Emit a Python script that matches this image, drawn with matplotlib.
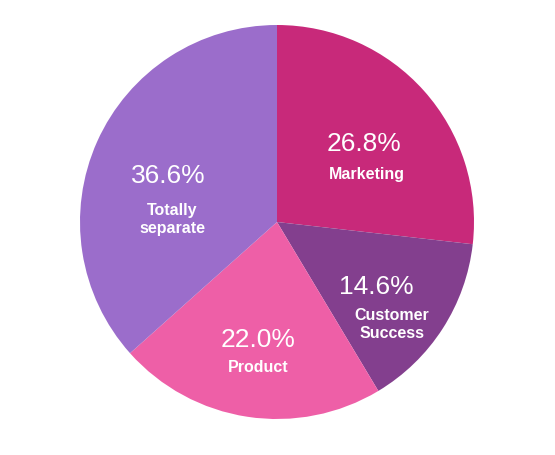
import matplotlib
matplotlib.use("Agg")
import matplotlib.pyplot as plt

categories = ["Marketing", "Customer\nSuccess", "Product", "Totally\nseparate"]
values = [26.8, 14.6, 22.0, 36.6]
colors = ["#C8297A", "#833F8E", "#EE5FA7", "#9B6DCB"]

W, H = 555, 455
fig = plt.figure(figsize=(W / 100, H / 100), dpi=100)
ax = fig.add_axes([0, 0, 1, 1])

cx, cy, r = 277, H - 222, 197
ax.pie(values, colors=colors, startangle=90, counterclock=False,
       center=(cx, cy), radius=r, frame=True,
       wedgeprops=dict(linewidth=0))
ax.set_xlim(0, W)
ax.set_ylim(0, H)
ax.set_aspect("equal")
ax.axis("off")

# label positions (pixels from top-left): percent, name
pct_pos = [(364, 144), (376, 287), (258, 340), (168, 176)]
name_pos = [(367, 174), (392, 324), (258, 368), (172, 219)]

for v, name, (px, py), (nx, ny) in zip(values, categories, pct_pos, name_pos):
    ax.text(px, H - py, f"{v:.1f}%", ha="center", va="center", color="white",
            fontsize=19, family="Liberation Sans")
    ax.text(nx, H - ny, name, ha="center", va="center", color="white",
            fontsize=11.5, fontweight="bold", family="Liberation Sans",
            linespacing=1.25)

fig.savefig("out.png", dpi=100, facecolor="white")
